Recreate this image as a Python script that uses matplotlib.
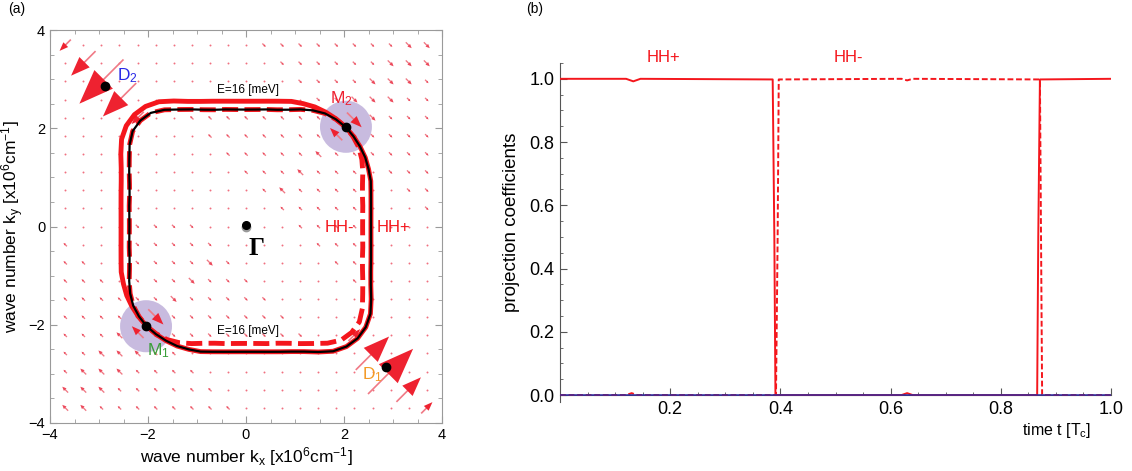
import numpy as np
import matplotlib.pyplot as plt
from matplotlib.patches import Circle
from matplotlib.ticker import MultipleLocator, FixedLocator

plt.rcParams['font.family'] = ['Liberation Sans', 'DejaVu Sans']
plt.rcParams['mathtext.default'] = 'regular'

# ---------------- (a) data ----------------
# Fermi contours at E=16 meV, radius [1e6 cm^-1] read every 5 deg
# from the M2 diagonal (45 deg) to the D2 diagonal (135 deg)
r_plus_q = [2.87, 2.86, 2.84, 2.81, 2.76, 2.71, 2.64, 2.59, 2.56, 2.55,
            2.56, 2.59, 2.64, 2.71, 2.81, 2.95, 3.10, 3.19, 3.22]
r_minus_q = [2.87, 2.85, 2.81, 2.73, 2.63, 2.53, 2.46, 2.42, 2.39, 2.38,
             2.39, 2.42, 2.46, 2.53, 2.63, 2.75, 2.90, 3.02, 3.05]

# marked points
pt_names = ['M$_1$', 'M$_2$', 'D$_1$', 'D$_2$']
pt_kx = [-2.04, 2.04, 2.86, -2.88]
pt_ky = [-2.03, 2.03, -2.87, 2.85]
pt_colors = ['#3a9e3a', '#ee2030', '#f39a26', '#2a2ae6']
pt_lx = [-1.79, 1.95, 2.58, -2.41]
pt_ly = [-2.53, 2.61, -3.01, 3.08]

# large arrows of the vector field: centre and components
arr_x = [-3.69, -3.32, -2.95, -2.58, -2.21, 2.21, 2.58, 2.95, 3.32, 3.69,
         2.21, 1.84, -1.84, -2.21]
arr_y = [3.69, 3.32, 2.95, 2.58, 2.21, -2.21, -2.58, -2.95, -3.32, -3.69,
         2.17, 1.88, -1.84, -2.15]
arr_u = [-0.23, -0.50, -0.90, -0.68, -0.25, 0.24, 0.68, 0.92, 0.50, 0.23,
         0.30, -0.25, 0.31, -0.24]
arr_v = [-0.23, -0.50, -0.90, -0.68, -0.25, 0.24, 0.68, 0.92, 0.50, 0.23,
         -0.30, 0.25, -0.31, 0.24]

# small arrows on the 21x21 grid (top row = ky 3.69), one char per arrow
grid_k = np.linspace(-3.69, 3.69, 21)
bg_rows = [
    "...........rrrrrrrrRR",
    "............rrrrrrRRR",
    ".............rrrrRRRr",
    "..............rrRRRrr",
    ".......lllllllll.Rrrr",
    "........lllllll.Rrrrr",
    ".........lllllLllrrrr",
    "..........lllLlll.rrr",
    "...........lLllll..rr",
    "............lllll...r",
    "....rrrr.....llll....",
    "l...rrrrr.....lll....",
    "ll..rrrrRr.....ll....",
    "lll.rrrRrrr.....l....",
    "llllrrRrrrrr.........",
    "llllL.rrrrrrr........",
    "lllL.Rrrrrrrrr.......",
    "llLLLll..............",
    "lLLLllll.............",
    "LLLllllll............",
    "LLllllllll...........",
]
bg_dirs = {'r': (0.07, -0.07), 'R': (0.12, -0.12),
           'l': (-0.07, 0.07), 'L': (-0.12, 0.12)}

# ---------------- (b) data ----------------
t_plus = [0.0, 0.12, 0.133, 0.146, 0.386, 0.389, 0.391, 0.62, 0.63, 0.64,
          0.866, 0.868, 0.871, 1.0]
hh_plus = [1.0, 1.0, 0.992, 1.0, 0.998, 0.5, 0.0, 0.0, 0.006, 0.0,
           0.0, 0.5, 0.998, 1.0]
t_minus = [0.0, 0.12, 0.13, 0.14, 0.392, 0.395, 0.397, 0.62, 0.63, 0.64,
           0.871, 0.873, 0.875, 1.0]
hh_minus = [0.0, 0.0, 0.006, 0.0, 0.0, 0.5, 0.998, 1.0, 0.995, 1.0,
            0.998, 0.5, 0.0, 0.0]
t_rest = [0.0, 1.0]
rest = [0.0, 0.0]

RED = '#f4161c'
ARROW = '#ee2230'

fig = plt.figure(figsize=(11.32, 4.71), dpi=100)

# ================= panel (a) =================
ax = fig.add_axes([50 / 1132, 48 / 471, 392 / 1132, 393 / 471])
ax.set_xlim(-4, 4)
ax.set_ylim(-4, 4)

th = np.deg2rad(np.arange(45, 406, 5))
half_p = r_plus_q + r_plus_q[::-1][1:-1]
half_m = r_minus_q + r_minus_q[::-1][1:-1]
r_plus = np.array(half_p * 2 + half_p[:1])
r_minus = np.array(half_m * 2 + half_m[:1])
r_traj = np.concatenate([r_minus[:37], r_plus[37:]])


def draw_arrow(x, y, u, v, width=0.02, color=ARROW, hw=0.36, hl=0.55):
    L = np.hypot(u, v)
    # thin shaft, then a long narrow head
    ax.plot([x - u / 2, x + u / 2 - hl * u * 0.5], [y - v / 2, y + v / 2 - hl * v * 0.5],
            color='#f07a86', lw=width * 60, solid_capstyle='butt', zorder=3)
    ax.arrow(x + u / 2 - hl * u, y + v / 2 - hl * v, hl * u, hl * v, width=0,
             head_width=hw * L, head_length=hl * L, length_includes_head=True,
             color=color, lw=0, zorder=3)


# background arrows
for i, row in enumerate(bg_rows):
    for j, ch in enumerate(row):
        x, y = grid_k[j], grid_k[::-1][i]
        if any(abs(x - a) < 0.12 and abs(y - b) < 0.12 for a, b in zip(arr_x, arr_y)):
            continue
        if ch == '.':
            ax.plot(x, y, 'o', color='#f07080', ms=1.4, mew=0, zorder=3)
        else:
            u, v = bg_dirs[ch]
            draw_arrow(x, y, u, v, width=0.016, color='#ec4a5c', hw=0.45, hl=0.5)

for x, y, u, v in zip(arr_x, arr_y, arr_u, arr_v):
    draw_arrow(x, y, u, v, width=0.02, hw=0.42, hl=0.55)

for i in (0, 1):
    ax.add_patch(Circle((pt_kx[i], pt_ky[i]), 0.53, color='#bfb0da', alpha=0.85,
                        lw=0, zorder=2))

ax.plot(r_plus * np.cos(th), r_plus * np.sin(th), color=RED, lw=3.5, zorder=4)
ax.plot(r_minus * np.cos(th), r_minus * np.sin(th), color=RED, lw=3.5,
        ls=(0, (3.3, 1.3)), zorder=4)
ax.plot(r_traj * np.cos(th), r_traj * np.sin(th), color='k', lw=1.6, zorder=5)

ax.plot(pt_kx, pt_ky, 'o', color='k', ms=6, zorder=6)
for name, lx, ly, c in zip(pt_names, pt_lx, pt_ly, pt_colors):
    ax.text(lx, ly, name, color=c, fontsize=12.5, ha='center', va='center', zorder=7)

ax.plot([0], [0], 'o', color='#999999', ms=6, zorder=5)
ax.plot([0], [0.03], 'o', color='k', ms=5.5, zorder=6)
ax.text(0.22, -0.45, 'Γ', fontsize=18, family='Liberation Serif',
        weight='bold', ha='center', va='center')
ax.text(0.05, 2.78, 'E=16 [meV]', fontsize=8.5, ha='center', va='center')
ax.text(0.05, -2.13, 'E=16 [meV]', fontsize=8.5, ha='center', va='center')
ax.text(1.9, -0.03, 'HH-', color=RED, fontsize=12, ha='center', va='center')
ax.text(3.0, -0.03, 'HH+', color=RED, fontsize=12, ha='center', va='center')

for s in ax.spines.values():
    s.set_color('#9a9a9a')
ax.xaxis.set_major_locator(MultipleLocator(2))
ax.yaxis.set_major_locator(MultipleLocator(2))
ax.xaxis.set_minor_locator(MultipleLocator(0.5))
ax.yaxis.set_minor_locator(MultipleLocator(0.5))
ax.tick_params(which='both', direction='in', top=True, right=True,
               color='#9a9a9a', labelsize=10.5)
ax.tick_params(which='major', length=5)
ax.tick_params(which='minor', length=3)
ax.set_xlabel('wave number k$_x$ [x10$^6$cm$^{-1}$]', fontsize=12.5, labelpad=2)
ax.set_ylabel('wave number k$_y$ [x10$^6$cm$^{-1}$]', fontsize=12.5, labelpad=2)

# ================= panel (b) =================
bx = fig.add_axes([560 / 1132, 69 / 471, 551 / 1132, 339 / 471])
bx.set_xlim(0, 1.0)
bx.set_ylim(-0.022, 1.05)
bx.plot(t_plus, hh_plus, color=RED, lw=1.4, zorder=3)
bx.plot(t_minus, hh_minus, color=RED, lw=1.4, ls=(0, (3, 1.4)), zorder=3)
bx.plot(t_rest, rest, color='#2a2aa0', lw=1.1, zorder=4)

for side in ('top', 'right'):
    bx.spines[side].set_visible(False)
bx.spines['bottom'].set_position(('data', 0))
for side in ('left', 'bottom'):
    bx.spines[side].set_color('#555555')
bx.xaxis.set_major_locator(FixedLocator([0.2, 0.4, 0.6, 0.8, 1.0]))
bx.xaxis.set_minor_locator(MultipleLocator(0.05))
bx.yaxis.set_minor_locator(MultipleLocator(0.05))
bx.set_yticks([0.0, 0.2, 0.4, 0.6, 0.8, 1.0])
bx.set_yticklabels(['0.0', '0.2', '0.4', '0.6', '0.8', '1.0'])
bx.set_xticklabels(['0.2', '0.4', '0.6', '0.8', '1.0'])
bx.tick_params(which='both', direction='in', color='#555555', labelsize=13)
bx.tick_params(which='major', length=5, pad=4)
bx.tick_params(which='minor', length=2.5)
bx.set_ylabel('projection coefficients', fontsize=13.5)
bx.yaxis.set_label_coords(-0.072, 0.53)
bx.text(0.902, -0.083, 'time t [T$_c$]', fontsize=11.5, ha='center',
        va='center', transform=bx.transAxes)
bx.text(0.187, 1.066, 'HH+', color=RED, fontsize=12, ha='center', va='center',
        clip_on=False)
bx.text(0.523, 1.066, 'HH-', color=RED, fontsize=12, ha='center', va='center',
        clip_on=False)

fig.text(17 / 1132, 1 - 9 / 471, '(a)', fontsize=10, ha='center', va='center')
fig.text(535 / 1132, 1 - 9 / 471, '(b)', fontsize=10, ha='center', va='center')

fig.savefig('out.png', dpi=100)
